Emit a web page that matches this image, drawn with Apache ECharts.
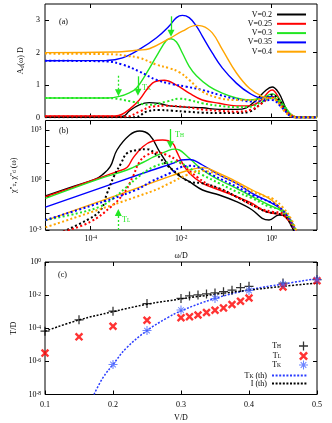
<!DOCTYPE html>
<html>
<head>
<meta charset="utf-8">
<script src="https://cdn.jsdelivr.net/npm/echarts@6/dist/echarts.min.js"></script>
<style>
  html, body { margin: 0; padding: 0; background: #fff; }
  #chart { width: 332px; height: 423px; }
</style>
</head>
<body>
<div id="chart"></div>
<script>
// ---- data ----
// panels (a),(b): x = log10(omega/D); panel (b) and (c) y = log10(value)
const vLabels = ['V=0.2', 'V=0.25', 'V=0.3', 'V=0.35', 'V=0.4'];
const vColors = ['#000000', '#ff0000', '#22e622', '#0000ff', '#ffa500'];

// (a) A_d(w) D, solid
const aSolid02 = [[-5,0.02],[-3.4,0.02],[-3.24,0.06],[-3.14,0.2],[-2.92,0.39],[-2.7,0.46],[-2.48,0.43],[-2.26,0.36],[-1.88,0.32],[-1.53,0.3],[-1.16,0.25],[-0.78,0.25],[-0.56,0.3],[-0.34,0.54],[-0.12,0.85],[0.01,0.94],[0.16,0.75],[0.31,0.3],[0.44,0.02],[0.6,0],[1,0]];
const aSolid025 = [[-5,0.05],[-3.45,0.05],[-3.3,0.1],[-3.14,0.25],[-2.92,0.54],[-2.63,1.06],[-2.37,1.15],[-2.1,1.0],[-1.82,0.75],[-1.53,0.54],[-1.16,0.44],[-0.78,0.36],[-0.49,0.36],[-0.27,0.49],[-0.06,0.8],[0.01,0.85],[0.16,0.6],[0.31,0.2],[0.5,0],[1,0]];
const aSolid03 = [[-5,0.6],[-3.6,0.6],[-3.36,0.65],[-3.14,0.76],[-2.98,0.91],[-2.76,1.37],[-2.54,1.89],[-2.32,2.38],[-2.22,2.43],[-2.1,2.33],[-1.97,1.99],[-1.82,1.58],[-1.66,1.29],[-1.38,0.96],[-1.09,0.75],[-0.78,0.6],[-0.49,0.54],[-0.21,0.6],[0.01,0.73],[0.23,0.45],[0.44,0.08],[0.6,0],[1,0]];
const aSolid035 = [[-5,1.75],[-3.64,1.76],[-3.29,1.84],[-2.92,2.1],[-2.54,2.46],[-2.26,2.82],[-2.1,3.08],[-1.97,3.15],[-1.82,3.08],[-1.66,2.82],[-1.53,2.51],[-1.31,1.99],[-1.09,1.53],[-0.78,1.06],[-0.49,0.75],[-0.21,0.6],[0.01,0.65],[0.16,0.47],[0.38,0.14],[0.6,0],[1,0]];
const aSolid04 = [[-5,2.0],[-3.5,2.02],[-2.92,2.08],[-2.7,2.12],[-2.26,2.43],[-1.97,2.66],[-1.66,2.84],[-1.53,2.82],[-1.31,2.61],[-1.09,2.1],[-0.78,1.38],[-0.49,0.9],[-0.21,0.65],[-0.06,0.6],[0.05,0.62],[0.23,0.34],[0.44,0.08],[0.6,0],[1,0]];
// (a) dotted
const aDot02 = [[-5,0.01],[-3.0,0.01],[-2.76,0.18],[-2.48,0.23],[-2.19,0.21],[-1.88,0.18],[-1.53,0.15],[-1.16,0.14],[-0.78,0.14],[-0.49,0.18],[-0.27,0.39],[-0.06,0.65],[0.01,0.7],[0.2,0.47],[0.38,0.1],[0.55,0],[1,0]];
const aDot025 = [[-5,0.03],[-3.2,0.03],[-2.92,0.18],[-2.63,0.34],[-2.32,0.36],[-1.88,0.32],[-1.53,0.25],[-1.16,0.21],[-0.78,0.18],[-0.43,0.25],[-0.21,0.44],[-0.02,0.62],[0.16,0.45],[0.38,0.1],[0.55,0],[1,0]];
const aDot03 = [[-5,0.6],[-3.64,0.6],[-3.07,0.49],[-2.7,0.39],[-2.32,0.49],[-2.04,0.58],[-1.82,0.54],[-1.53,0.44],[-1.16,0.36],[-0.78,0.32],[-0.49,0.33],[-0.21,0.49],[0.01,0.6],[0.23,0.39],[0.44,0.05],[0.6,0],[1,0]];
const aDot035 = [[-5,1.75],[-3.64,1.73],[-3.29,1.63],[-2.92,1.42],[-2.54,1.16],[-2.19,1.03],[-1.88,0.95],[-1.53,0.85],[-1.16,0.7],[-0.78,0.57],[-0.43,0.49],[-0.21,0.52],[0.01,0.54],[0.23,0.3],[0.44,0.03],[0.6,0],[1,0]];
const aDot04 = [[-5,1.97],[-3.5,1.95],[-3.2,1.9],[-2.92,1.84],[-2.54,1.63],[-2.26,1.52],[-2.04,1.4],[-1.82,1.16],[-1.53,0.8],[-1.16,0.6],[-0.78,0.54],[-0.43,0.54],[-0.06,0.6],[0.09,0.54],[0.31,0.15],[0.53,0],[1,0]];

// (b) chi'' (log10), solid
const bSolid02 = [[-5,-0.95],[-4.4,-0.4],[-3.9,0.05],[-3.75,0.3],[-3.57,0.8],[-3.42,1.8],[-3.14,2.7],[-2.92,2.94],[-2.7,2.7],[-2.48,1.7],[-2.26,0.8],[-2.1,0.35],[-1.82,-0.1],[-1.53,-0.6],[-1.16,-0.9],[-0.78,-1.3],[-0.43,-1.8],[-0.21,-2.3],[-0.06,-2.4],[0.16,-2.1],[0.31,-2.2],[0.44,-2.8],[0.6,-3.5]];
const bSolid025 = [[-5,-1.0],[-4.4,-0.45],[-3.78,0.15],[-3.42,0.5],[-3.2,0.75],[-3.07,1.3],[-2.85,2.0],[-2.63,2.34],[-2.41,2.4],[-2.19,2.2],[-2.1,1.7],[-1.97,1.0],[-1.82,0.4],[-1.53,-0.2],[-1.16,-0.6],[-0.78,-1.0],[-0.43,-1.4],[-0.21,-1.8],[0.01,-2.0],[0.23,-2.1],[0.44,-2.7],[0.6,-3.5]];
const bSolid03 = [[-5,-1.1],[-3.78,0.1],[-3.2,0.6],[-2.85,1.05],[-2.6,1.4],[-2.3,1.75],[-2.15,1.85],[-2.04,1.8],[-1.82,1.3],[-1.53,0.6],[-1.16,0],[-0.78,-0.5],[-0.43,-1.0],[-0.06,-1.5],[0.23,-1.9],[0.44,-2.6],[0.6,-3.5]];
const bSolid035 = [[-5,-1.63],[-2.67,0.57],[-2.19,1.0],[-2.0,1.2],[-1.82,1.23],[-1.53,0.9],[-1.16,0.3],[-0.78,-0.2],[-0.43,-0.8],[-0.06,-1.3],[0.23,-1.8],[0.44,-2.5],[0.6,-3.5]];
const bSolid04 = [[-5,-2.44],[-2.67,-0.19],[-2.19,0.28],[-1.82,0.6],[-1.53,0.74],[-1.16,0.4],[-0.78,-0.1],[-0.43,-0.6],[-0.06,-1.1],[0.16,-1.6],[0.38,-2.3],[0.6,-3.5]];
// (b) dotted
const bDot02 = [[-4.7,-3.2],[-4.08,-2.4],[-3.78,-1.8],[-3.64,-0.8],[-3.49,0.2],[-3.33,1.0],[-3.2,1.6],[-2.98,1.8],[-2.76,1.85],[-2.54,1.5],[-2.32,0.9],[-2.04,0.3],[-1.82,-0.1],[-1.53,-0.2],[-1.16,-0.5],[-0.78,-1.0],[-0.43,-1.5],[-0.12,-1.9],[0.09,-2.0],[0.31,-2.2],[0.53,-3.3]];
const bDot025 = [[-4.6,-3.1],[-4.0,-2.5],[-3.55,-1.6],[-3.27,-0.8],[-3.07,0.2],[-2.92,1.1],[-2.76,1.5],[-2.54,1.65],[-2.32,1.5],[-2.1,1.2],[-1.97,0.9],[-1.66,0.2],[-1.38,-0.3],[-1.0,-0.7],[-0.65,-1.2],[-0.27,-1.7],[0.01,-1.9],[0.23,-2.0],[0.44,-2.6],[0.6,-3.5]];
const bDot03 = [[-5,-2.4],[-4.3,-2.0],[-3.8,-1.6],[-3.5,-1.1],[-3.2,-0.4],[-2.9,0.3],[-2.6,0.8],[-2.3,1.05],[-2.1,1.1],[-1.82,0.7],[-1.53,0.3],[-1.16,-0.2],[-0.78,-0.7],[-0.43,-1.1],[-0.06,-1.6],[0.23,-1.8],[0.44,-2.5],[0.6,-3.5]];
const bDot035 = [[-5,-2.4],[-4,-1.55],[-3,-0.6],[-2.67,-0.1],[-2.26,0.4],[-1.97,0.8],[-1.8,0.85],[-1.66,0.8],[-1.31,0.3],[-0.78,-0.4],[-0.43,-0.9],[-0.06,-1.3],[0.16,-1.6],[0.38,-2.3],[0.6,-3.5]];
const bDot04 = [[-5,-2.84],[-2.67,-0.7],[-2.26,-0.2],[-1.88,0.3],[-1.53,0.55],[-1.16,0.3],[-0.78,-0.2],[-0.43,-0.7],[-0.12,-1.0],[0.01,-1.1],[0.23,-1.6],[0.44,-2.4],[0.6,-3.5]];

// arrows: [log10 w, from, to]
const arrowsA = [[-2.22, 3.12, 2.6], [-2.95, 1.27, 0.78]];
const arrowsADot = [[-3.38, 1.29, 0.76]];
const arrowsB = [[-2.24, 3.06, 2.12]];
const arrowsBDot = [[-3.39, -3.0, -1.95]];

// (c) T/D (log10) vs V/D
const cV = [0.1, 0.15, 0.2, 0.25, 0.3, 0.3125, 0.325, 0.3375, 0.35, 0.3625, 0.375, 0.3875, 0.4, 0.45, 0.5];
const cTH = [-4.18, -3.49, -2.97, -2.51, -2.2, -2.05, -1.99, -1.93, -1.87, -1.79, -1.7, -1.54, -1.47, -1.27, -1.07];
const cTL = [-5.5, -4.52, -3.88, -3.52, -3.37, -3.3, -3.2, -3.05, -2.91, -2.77, -2.57, -2.37, -2.17, -1.51, -1.13];
const cVK = [0.2, 0.25, 0.3, 0.35, 0.4, 0.45, 0.5];
const cTK = [-6.19, -4.14, -2.9, -2.2, -1.72, -1.33, -1.07];
const thKV = [0.172, 0.185, 0.2, 0.22, 0.25, 0.28, 0.3, 0.35, 0.4, 0.45, 0.5];
const thK = [-8, -7.0, -6.19, -5.18, -4.14, -3.37, -2.95, -2.2, -1.68, -1.33, -1.0];
const thIV = [0.1, 0.15, 0.2, 0.25, 0.3, 0.35, 0.4, 0.45, 0.5];
const thI = [-4.18, -3.5, -3.0, -2.55, -2.23, -1.95, -1.7, -1.47, -1.27];

const wTicks = [-4, -2, 0];
const aTicks = [0, 1, 2, 3];
const bTicks = [-3, -2, -1, 0, 1, 2, 3];
const bLabels = [-3, 0, 3];

// ---- styling ----
const FONT = '"Liberation Serif", "DejaVu Serif", serif';
const GREEN = vColors[2];
const plusPath = 'path://M4.3,0H5.7V4.3H10V5.7H5.7V10H4.3V5.7H0V4.3H4.3Z';
const crossPath = 'path://M0,2L2,0L10,8L8,10Z M8,0L10,2L2,10L0,8Z';
const starPath = 'path://M4.4,0H5.6V4.4H10V5.6H5.6V10H4.4V5.6H0V4.4H4.4Z M1.5,2.3L2.3,1.5L8.5,7.7L7.7,8.5Z M7.7,1.5L8.5,2.3L2.3,8.5L1.5,7.7Z';

const powRich = {
  b: { fontFamily: FONT, fontSize: 8, lineHeight: 8, verticalAlign: 'bottom', color: '#000' },
  e: { fontFamily: FONT, fontSize: 5.5, lineHeight: 6, padding: [0, 0, 4, 0], verticalAlign: 'top', color: '#000' },
};
const subRich = {
  n: { fontFamily: FONT, fontSize: 8, lineHeight: 8, verticalAlign: 'top', color: '#000' },
  s: { fontFamily: FONT, fontSize: 5.5, lineHeight: 6, padding: [4, 0, 0, 0], verticalAlign: 'bottom', color: '#000' },
};
const pow = v => '{b|10}{e|' + v + '}';
const tick = { show: true, inside: true, length: 4, lineStyle: { color: '#000', width: 1 } };
const noLine = { show: false, onZero: false };

function xAx(grid, pos, extra) {
  return Object.assign({
    gridIndex: grid, type: 'value', position: pos,
    axisLine: noLine, splitLine: { show: false },
    axisTick: Object.assign({}, tick, { customValues: wTicks }),
    axisLabel: { show: false }, min: -5, max: 1,
  }, extra || {});
}
function yAx(grid, pos, extra) {
  return Object.assign({
    gridIndex: grid, type: 'value', position: pos,
    axisLine: noLine, splitLine: { show: false },
    axisTick: tick, axisLabel: { show: false },
  }, extra || {});
}

function curve(name, data, color, dotted, xi, yi, extra) {
  return Object.assign({
    type: 'line', name, data, xAxisIndex: xi, yAxisIndex: yi,
    symbol: 'none', smooth: 0.4, silent: true, animation: false,
    lineStyle: { color, width: dotted ? 2 : 1.4, type: dotted ? [2, 2.4] : 'solid', cap: 'butt' },
    itemStyle: { color }, z: dotted ? 3 : 2,
  }, extra || {});
}

function arrowLine(list, dotted) {
  return list.map(a => [
    { coord: [a[0], a[1]], lineStyle: { color: GREEN, width: 1.3, type: dotted ? [2, 2] : 'solid' } },
    { coord: [a[0], a[2]] },
  ]);
}
function markArrows(list, dotted) {
  return {
    silent: true, animation: false, symbol: ['none', 'triangle'], symbolSize: 7,
    label: { show: false }, itemStyle: { color: GREEN },
    lineStyle: { color: GREEN, width: 1.3 }, data: arrowLine(list, dotted),
  };
}

const aSolids = [aSolid02, aSolid025, aSolid03, aSolid035, aSolid04];
const aDots = [aDot02, aDot025, aDot03, aDot035, aDot04];
const bSolids = [bSolid02, bSolid025, bSolid03, bSolid035, bSolid04];
const bDots = [bDot02, bDot025, bDot03, bDot035, bDot04];

const series = [];
vLabels.forEach((name, i) => {
  series.push(curve(name, aSolids[i], vColors[i], false, 0, 0,
    i === 2 ? { markLine: markArrows(arrowsA, false) } : null));
  series.push(curve(name + ' dot', aDots[i], vColors[i], true, 0, 0,
    i === 2 ? { markLine: markArrows(arrowsADot, true) } : null));
  series.push(curve(name + ' b', bSolids[i], vColors[i], false, 2, 2,
    i === 2 ? { markLine: markArrows(arrowsB, false) } : null));
  series.push(curve(name + ' bdot', bDots[i], vColors[i], true, 2, 2,
    i === 2 ? { markLine: markArrows(arrowsBDot, true) } : null));
});

series.push(curve('T_K (th)', thKV.map((v, i) => [v, thK[i]]), '#2a3cff', false, 4, 4,
  { lineStyle: { color: '#2a3cff', width: 1.5, type: [2, 1.6] } }));
series.push(curve('I (th)', thIV.map((v, i) => [v, thI[i]]), '#000000', false, 4, 4,
  { lineStyle: { color: '#000', width: 1.5, type: [2, 1.6] } }));
series.push({ type: 'scatter', name: 'T_H', xAxisIndex: 4, yAxisIndex: 4, symbol: plusPath, symbolSize: 9,
  itemStyle: { color: '#000' }, data: cV.map((v, i) => [v, cTH[i]]), silent: true, animation: false, z: 5 });
series.push({ type: 'scatter', name: 'T_L', xAxisIndex: 4, yAxisIndex: 4, symbol: crossPath, symbolSize: 8.5,
  itemStyle: { color: '#ff0000' }, data: cV.map((v, i) => [v, cTL[i]]), silent: true, animation: false, z: 5 });
series.push({ type: 'scatter', name: 'T_K', xAxisIndex: 4, yAxisIndex: 4, symbol: starPath, symbolSize: 9,
  itemStyle: { color: '#4a66ff' }, data: cVK.map((v, i) => [v, cTK[i]]), silent: true, animation: false, z: 6 });

// legends: one per row so text is right aligned against the sample
const legText = { fontFamily: FONT, fontSize: 8, lineHeight: 9, color: '#000' };
const legendsA = vLabels.map((name, i) => ({
  data: [name], right: 25, top: [10, 19.3, 28.6, 37.9, 47.2][i], orient: 'vertical', align: 'right',
  itemWidth: 29, itemHeight: 9, padding: 0, selectedMode: false, textStyle: legText,
  itemStyle: { opacity: 0 },
}));
const cNames = ['T_H', 'T_L', 'T_K', 'T_K (th)', 'I (th)'];
const cFmt = {
  'T_H': '{n|T}{s|H}', 'T_L': '{n|T}{s|L}', 'T_K': '{n|T}{s|K}',
  'T_K (th)': '{n|T}{s|K}{n| (th)}', 'I (th)': '{n|I (th)}',
};
const legendsC = cNames.map((name, i) => {
  const lg = {
    data: [name], right: 24, top: [340, 350, 359, 369.5, 379.5][i], orient: 'vertical', align: 'right',
    itemWidth: 35, itemHeight: 9, padding: 0, selectedMode: false,
    formatter: n => cFmt[n], textStyle: Object.assign({ rich: subRich }, legText),
  };
  if (i > 2) lg.itemStyle = { opacity: 0 };
  return lg;
});

const greenRich = {
  n: Object.assign({}, subRich.n, { color: GREEN, fill: GREEN }),
  s: Object.assign({}, subRich.s, { color: GREEN, fill: GREEN }),
};

const option = {
  animation: false,
  backgroundColor: '#fff',
  textStyle: { fontFamily: FONT },
  grid: [
    { left: 45, width: 272, top: 4, height: 113.5, show: true, borderColor: '#000', borderWidth: 1, backgroundColor: 'transparent' },
    { left: 45, width: 272, top: 120.5, height: 109.5, show: true, borderColor: '#000', borderWidth: 1, backgroundColor: 'transparent' },
    { left: 45, width: 272, top: 262, height: 132.5, show: true, borderColor: '#000', borderWidth: 1, backgroundColor: 'transparent' },
  ],
  xAxis: [
    xAx(0, 'bottom'),
    xAx(0, 'top'),
    xAx(1, 'bottom', {
      axisLabel: { show: true, customValues: wTicks, formatter: pow, rich: powRich, margin: 5 },
      name: 'ω/D', nameLocation: 'middle', nameGap: 22,
      nameTextStyle: { fontFamily: FONT, fontSize: 8, color: '#000' },
    }),
    xAx(1, 'top'),
    xAx(2, 'bottom', {
      min: 0.1, max: 0.5, interval: 0.1, axisTick: tick,
      axisLabel: { show: true, formatter: v => v.toFixed(1), margin: 6, showMinLabel: true, showMaxLabel: true,
        fontFamily: FONT, fontSize: 8, color: '#000' },
      name: 'V/D', nameLocation: 'middle', nameGap: 19,
      nameTextStyle: { fontFamily: FONT, fontSize: 8, color: '#000' },
    }),
    xAx(2, 'top', { min: 0.1, max: 0.5, interval: 0.1, axisTick: tick }),
  ],
  yAxis: [
    yAx(0, 'left', {
      min: 0, max: 3.5,
      axisTick: Object.assign({}, tick, { customValues: aTicks }),
      axisLabel: { show: true, customValues: aTicks, margin: 5, fontFamily: FONT, fontSize: 8, color: '#000' },
      name: '{n|A}{s|d}{n|(ω) D}', nameLocation: 'middle', nameGap: 16, nameRotate: 90,
      nameTextStyle: { rich: subRich },
    }),
    yAx(0, 'right', { min: 0, max: 3.5, axisTick: Object.assign({}, tick, { customValues: aTicks }) }),
    yAx(1, 'left', {
      min: -3, max: 3.57,
      axisTick: Object.assign({}, tick, { customValues: bTicks }),
      axisLabel: { show: true, customValues: bLabels, formatter: pow, rich: powRich, margin: 4 },
      name: "{n|χ''}{s|tt}{n|, χ''}{s|d}{n| (ω)}", nameLocation: 'middle', nameGap: 17, nameRotate: 90,
      nameTextStyle: { rich: subRich },
    }),
    yAx(1, 'right', { min: -3, max: 3.57, axisTick: Object.assign({}, tick, { customValues: bTicks }) }),
    yAx(2, 'left', {
      min: -8, max: 0, interval: 2,
      axisLabel: { show: true, formatter: pow, rich: powRich, margin: 4, showMinLabel: true, showMaxLabel: true },
      name: 'T/D', nameLocation: 'middle', nameGap: 22, nameRotate: 90,
      nameTextStyle: { fontFamily: FONT, fontSize: 8, color: '#000' },
    }),
    yAx(2, 'right', { min: -8, max: 0, interval: 2 }),
  ],
  legend: legendsA.concat(legendsC),
  graphic: [
    { type: 'text', left: 59, top: 18, style: { text: '(a)', font: '8px ' + FONT, fill: '#000' } },
    { type: 'text', left: 59, top: 127, style: { text: '(b)', font: '8px ' + FONT, fill: '#000' } },
    { type: 'text', left: 58, top: 271, style: { text: '(c)', font: '8px ' + FONT, fill: '#000' } },
    { type: 'text', left: 142, top: 82, style: { text: '{n|T}{s|K}', rich: greenRich, fill: GREEN } },
    { type: 'text', left: 175, top: 129, style: { text: '{n|T}{s|H}', rich: greenRich, fill: GREEN } },
    { type: 'text', left: 122, top: 214, style: { text: '{n|T}{s|L}', rich: greenRich, fill: GREEN } },
  ],
  series,
};

const chart = echarts.init(document.getElementById('chart'), null, { renderer: 'canvas' });
chart.setOption(option);
</script>
</body>
</html>
